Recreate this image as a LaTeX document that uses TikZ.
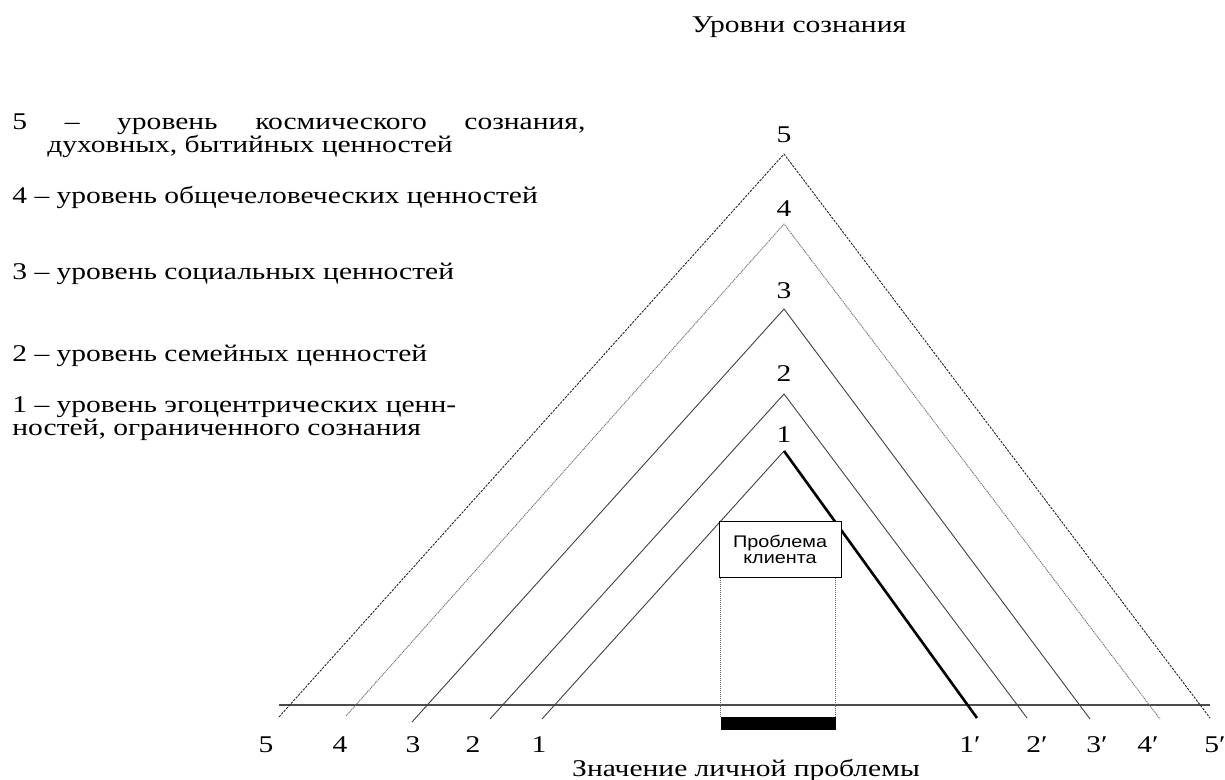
\documentclass[tikz,border=0pt]{standalone}
\usepackage{fontspec}
\setmainfont[FakeStretch=1.23]{Liberation Serif}
\newfontfamily\boxfont[FakeStretch=1.18]{Liberation Sans}

\begin{document}
\begin{tikzpicture}[
    x=0.5pt, y=-0.5pt,
    level/.style={
        draw=black!75,
        line width=0.45pt
    },
    cosmic/.style={
        draw=black!85,
        line width=0.45pt,
        dash pattern=on 1.2pt off 0.6pt
    },
    human/.style={
        draw=black!55,
        line width=0.45pt,
        dash pattern=on 0.6pt off 0.4pt
    },
    ego/.style={
        draw=black,
        line width=1.3pt
    },
    axis/.style={
        draw=black!70,
        line width=1pt
    },
    guide/.style={
        draw=black!60,
        line width=0.4pt,
        dash pattern=on 0.5pt off 0.5pt
    },
    legend/.style={
        anchor=base west,
        inner sep=0pt,
        font=\fontsize{12}{12}\selectfont
    },
    num/.style={
        anchor=base,
        inner sep=0pt,
        font=\fontsize{12}{12}\selectfont
    },
    problem/.style={
        draw,
        line width=0.5pt,
        minimum width=61pt,
        minimum height=28pt,
        inner sep=0pt,
        align=center,
        font=\boxfont\fontsize{8.4}{8}\selectfont
    },
    bar/.style={
        fill=black,
        minimum width=57.5pt,
        minimum height=6.5pt,
        inner sep=0pt
    }
]
\useasboundingbox (0,0) rectangle (1225,780);

% Title
\node[num] (title) at (799,33) {Уровни сознания};

% Legend
\node[legend] (leg5) at (12,130) {\makebox[286.5pt][s]{5 – уровень космического сознания,}};
\node[legend] (leg5b) at (47,153) {духовных, бытийных ценностей};
\node[legend] (leg4) at (12,204) {4 – уровень общечеловеческих ценностей};
\node[legend] (leg3) at (12,280) {3 – уровень социальных ценностей};
\node[legend] (leg2) at (12,362) {2 – уровень семейных ценностей};
\node[legend] (leg1) at (12,412) {1 – уровень эгоцентрических ценн-};
\node[legend] (leg1b) at (12,435) {ностей, ограниченного сознания};

% Apexes
\coordinate (t5) at (784,154);
\coordinate (t4) at (784,224);
\coordinate (t3) at (784,309);
\coordinate (t2) at (784,394);
\coordinate (t1) at (784,451);
\node[num] (a5) at (784,143) {5};
\node[num] (a4) at (784,217) {4};
\node[num] (a3) at (784,299) {3};
\node[num] (a2) at (784,381) {2};
\node[num] (a1) at (784,442) {1};

% Feet
\coordinate (l5) at (279,717);
\coordinate (l4) at (346,716);
\coordinate (l3) at (412,722);
\coordinate (l2) at (490,719);
\coordinate (l1) at (542,719);
\coordinate (r1) at (977,718);
\coordinate (r2) at (1027,718);
\coordinate (r3) at (1090,719);
\coordinate (r4) at (1160,719);
\coordinate (r5) at (1210,718);

% Axis
\coordinate (axisL) at (279,705);
\coordinate (axisR) at (1210,705);
\draw[axis] (axisL) -- (axisR);

% Levels
\draw[cosmic] (l5) -- (t5) -- (r5);
\draw[human] (l4) -- (t4) -- (r4);
\draw[level] (l3) -- (t3) -- (r3);
\draw[level] (l2) -- (t2) -- (r2);
\draw[level] (l1) -- (t1);
\draw[ego] (t1) -- (r1);

% Problem
\node[problem, fill=white] (problem) at (780,549) {Проблема\\клиента};
\coordinate (pl) at (720,717);
\coordinate (pr) at (835,717);
\draw[guide] (pl |- problem.south) -- (pl);
\draw[guide] (pr |- problem.south) -- (pr);
\node[bar] (weight) at (778.5,723.5) {};

% Axis labels
\node[num] (b5) at (266,752) {5};
\node[num] (b4) at (340,752) {4};
\node[num] (b3) at (413,752) {3};
\node[num] (b2) at (473,752) {2};
\node[num] (b1) at (539,752) {1};
\node[num] (c1) at (970,752) {1′};
\node[num] (c2) at (1037,752) {2′};
\node[num] (c3) at (1097,752) {3′};
\node[num] (c4) at (1148,752) {4′};
\node[num] (c5) at (1215,752) {5′};
\node[num] (axisname) at (746,776) {Значение личной проблемы};

\end{tikzpicture}
\end{document}
